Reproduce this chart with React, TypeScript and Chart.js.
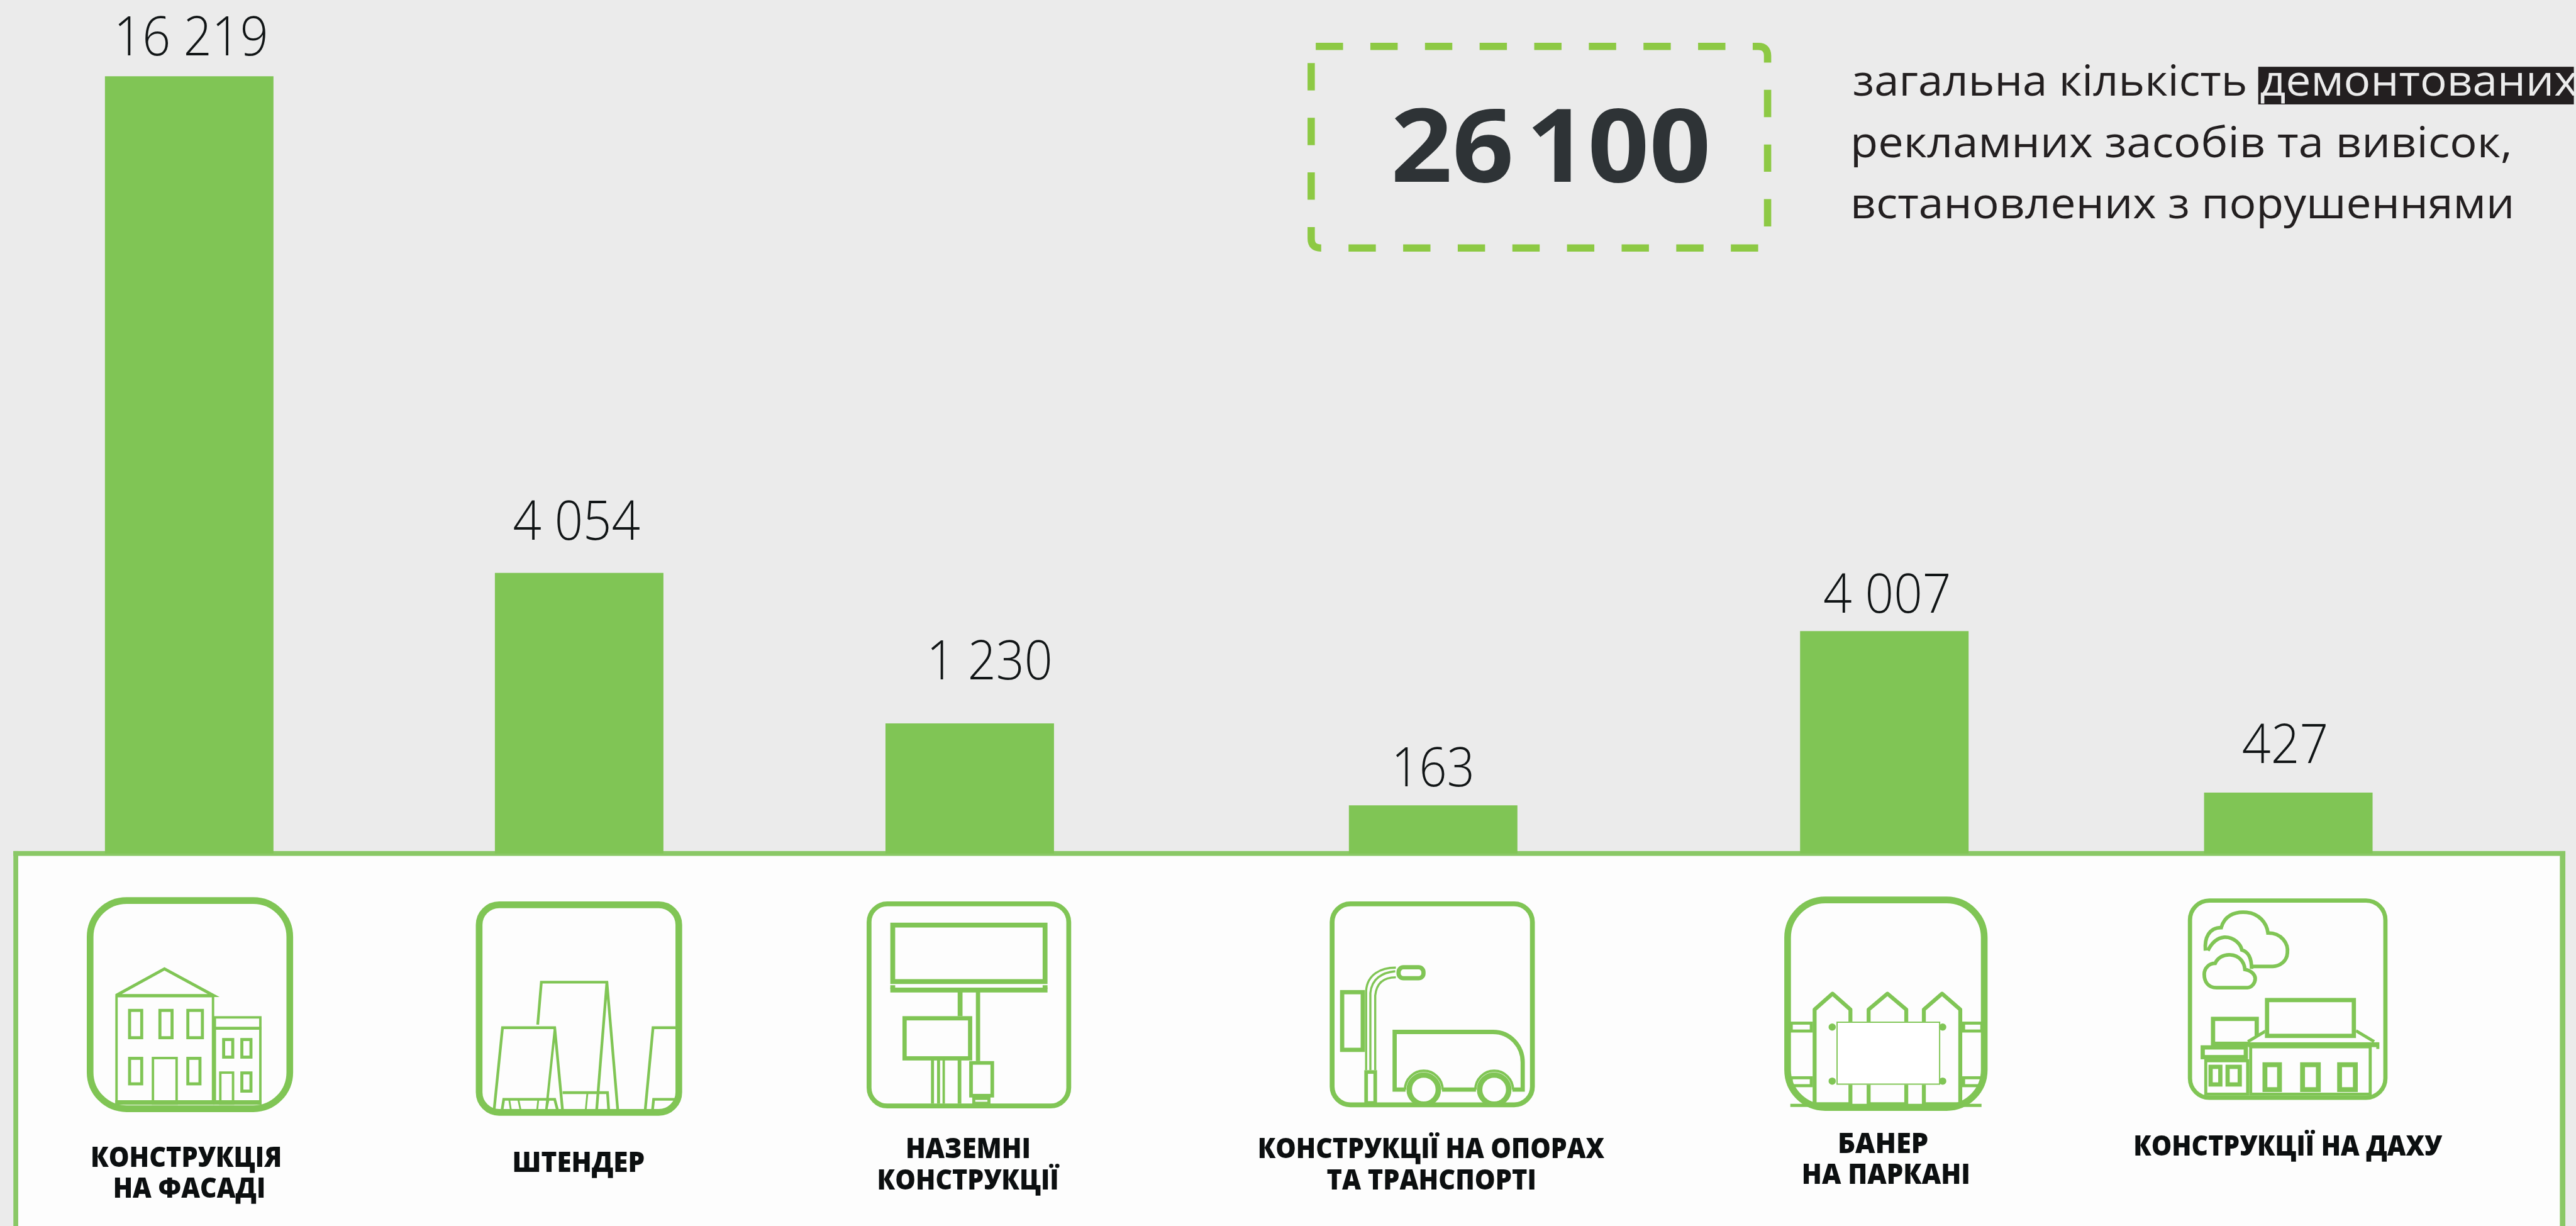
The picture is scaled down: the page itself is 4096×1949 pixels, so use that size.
import React, { useEffect, useRef } from "react";
import { Chart, registerables } from "chart.js";

Chart.register(...registerables);

// ---------- data ----------
const categories = [
  "Конструкція на фасаді",
  "Штендер",
  "Наземні конструкції",
  "Конструкції на опорах та транспорті",
  "Банер на паркані",
  "Конструкції на даху",
];
const categoryLines = [
  ["КОНСТРУКЦІЯ", "НА ФАСАДІ"],
  ["ШТЕНДЕР"],
  ["НАЗЕМНІ", "КОНСТРУКЦІЇ"],
  ["КОНСТРУКЦІЇ НА ОПОРАХ", "ТА ТРАНСПОРТІ"],
  ["БАНЕР", "НА ПАРКАНІ"],
  ["КОНСТРУКЦІЇ НА ДАХУ"],
];
// The printed numbers.
const valueLabels = ["16 219", "4 054", "1 230", "163", "4 007", "427"];
// The bars in the source are not drawn to the printed numbers, so their heights are
// read off the picture, in units where the tallest bar stands at its printed 16 219.
const barLevels = [16219, 5854, 2712, 1001, 4638, 1267];
// Bars are unevenly spaced; position along the axis, in units of the first gap.
const barSlots = [0, 1, 2.0016, 3.19, 4.347, 5.383];
const totalValue = "26 100";
const noteLine1 = "загальна кількість";
const noteHighlight = "демонтованих";
const noteLine2 = "рекламних засобів та вивісок,";
const noteLine3 = "встановлених з порушеннями";

// ---------- layout (reference pixels, everything drawn at 0.965) ----------
const S = 0.965;
const W = 4096;
const H = 1949;
const BASE = 1406;
const GREEN = "#80C555";
const BORDER = "#8AC866";
const DASH = "#8DC944";
const valueBoxes = [
  [195, 438, 91], [847, 1054, 889], [1534, 1730, 1119], [2300, 2424.5, 1295], [3006, 3210.6, 1009], [3696, 3832, 1257],
];
const labelBoxes = [
  [[152, 462, 1922], [189, 435, 1972.6]],
  [[847, 1061, 1931]],
  [[1495, 1696, 1908], [1448, 1746, 1959.6]],
  [[2075, 2644, 1908], [2187, 2529, 1959.6]],
  [[3031, 3176, 1899], [2971.5, 3244, 1950.6]],
  [[3518, 4025, 1904]],
];

type C = CanvasRenderingContext2D;

function fitted(ctx: C, text: string, x0: number, x1: number, y: number) {
  ctx.save();
  ctx.textAlign = "left";
  ctx.textBaseline = "alphabetic";
  const m = ctx.measureText(text);
  const ink = m.actualBoundingBoxRight + m.actualBoundingBoxLeft;
  const k = (x1 - x0) / ink;
  ctx.translate(x0 + m.actualBoundingBoxLeft * k, y);
  ctx.scale(k, 1);
  ctx.fillText(text, 0, 0);
  ctx.restore();
}

// outer-edge box outline
function box(ctx: C, x0: number, y0: number, x1: number, y1: number, lw: number, fill?: string) {
  ctx.lineWidth = lw;
  if (fill) {
    ctx.fillStyle = fill;
    ctx.fillRect(x0, y0, x1 - x0, y1 - y0);
  }
  ctx.strokeRect(x0 + lw / 2, y0 + lw / 2, x1 - x0 - lw, y1 - y0 - lw);
}
function rbox(ctx: C, x0: number, y0: number, x1: number, y1: number, r: number, lw: number) {
  ctx.lineWidth = lw;
  ctx.beginPath();
  ctx.roundRect(x0 + lw / 2, y0 + lw / 2, x1 - x0 - lw, y1 - y0 - lw, r);
  ctx.stroke();
}
function ln(ctx: C, lw: number, ...p: number[]) {
  ctx.lineWidth = lw;
  ctx.beginPath();
  ctx.moveTo(p[0], p[1]);
  for (let i = 2; i < p.length; i += 2) ctx.lineTo(p[i], p[i + 1]);
  ctx.stroke();
}

function iconBuilding(c: C) {
  rbox(c, 143, 1478, 483, 1832, 60, 11);
  ln(c, 5, 191, 1640, 271, 1596, 352, 1640, 191, 1640);
  box(c, 190, 1639, 353, 1820, 4);
  ln(c, 5, 190, 1815, 431, 1815);
  [[211, 236], [261, 286], [307, 336]].forEach(([a, b]) => box(c, a, 1662, b, 1712, 5));
  box(c, 211, 1741, 236, 1788, 5);
  box(c, 250, 1741, 293, 1820, 4);
  box(c, 307, 1741, 332, 1788, 5);
  box(c, 352, 1674, 431, 1820, 4);
  ln(c, 5, 352, 1694, 431, 1694);
  box(c, 366, 1710, 386, 1744, 5);
  box(c, 396, 1710, 416, 1744, 5);
  box(c, 361, 1765, 386, 1820, 4);
  box(c, 396, 1765, 416, 1800, 5);
}

function iconStand(c: C) {
  rbox(c, 784, 1485, 1124, 1838, 33, 11);
  const b = 1830;
  ln(c, 4.5, 886, 1688, 892, 1618, 1000, 1618, 1018, b);
  ln(c, 4.5, 1000, 1618, 983, b);
  ln(c, 4.5, 814, b, 828, 1693, 914, 1693, 927, b);
  ln(c, 4, 914, 1698, 900, b);
  ln(c, 4.5, 1063, b, 1076, 1693, 1117, 1693);
  ln(c, 4.5, 827, b, 830, 1811, 914, 1811, 919, b);
  ln(c, 3, 839, 1811, 842, b);
  ln(c, 3, 854, 1811, 858, b);
  ln(c, 3, 887, 1811, 885, b);
  ln(c, 3, 904, 1811, 900, b);
  ln(c, 4.5, 927, 1800, 1001, 1800, 1003, b);
  ln(c, 3, 968, 1800, 965, b);
  ln(c, 4.5, 1075, b, 1077, 1811, 1117, 1811);
}

function iconBillboard(c: C) {
  rbox(c, 1428, 1485, 1765, 1826, 30, 8);
  box(c, 1467, 1520, 1726, 1621, 8);
  c.fillRect(1467, 1627, 259, 8);
  c.fillRect(1467, 1623, 8, 6);
  c.fillRect(1718, 1623, 8, 6);
  c.fillRect(1578, 1630, 8, 44);
  c.fillRect(1608, 1630, 7, 118);
  box(c, 1487, 1674, 1602, 1747, 7);
  c.fillRect(1534, 1746, 5, 72);
  c.fillRect(1544, 1746, 5, 72);
  c.fillRect(1553, 1746, 4, 72);
  c.fillRect(1578, 1746, 6, 72);
  box(c, 1597, 1748, 1638, 1808, 6);
  box(c, 1602, 1807, 1632, 1820, 5);
}

function iconBus(c: C) {
  rbox(c, 2191, 1485, 2529, 1824, 30, 8);
  box(c, 2208, 1631, 2249, 1733, 7);
  // pole with its arm
  c.lineWidth = 3.5;
  c.beginPath();
  c.moveTo(2251, 1763);
  c.lineTo(2251, 1632);
  c.bezierCurveTo(2253, 1605, 2275, 1594, 2300, 1594);
  c.stroke();
  c.beginPath();
  c.moveTo(2266, 1763);
  c.lineTo(2266, 1640);
  c.bezierCurveTo(2268, 1620, 2280, 1610, 2300, 1610);
  c.stroke();
  c.beginPath();
  c.moveTo(2258, 1763);
  c.lineTo(2258, 1636);
  c.bezierCurveTo(2260, 1612, 2278, 1602, 2299, 1600);
  c.stroke();
  rbox(c, 2301, 1590, 2349, 1615, 8, 7);
  box(c, 2248, 1763, 2269, 1820, 6);
  // bus body
  c.lineWidth = 7;
  c.beginPath();
  c.moveTo(2316, 1795);
  c.lineTo(2298, 1795);
  c.lineTo(2298, 1700);
  c.lineTo(2460, 1700);
  c.bezierCurveTo(2490, 1700, 2509, 1725, 2509, 1750);
  c.lineTo(2509, 1795);
  c.lineTo(2492, 1795);
  c.moveTo(2376, 1795);
  c.lineTo(2432, 1795);
  c.stroke();
  [2346, 2462].forEach((x) => {
    c.lineWidth = 9;
    c.beginPath();
    c.arc(x, 1795, 24, 0, Math.PI * 2);
    c.stroke();
    c.lineWidth = 4;
    c.beginPath();
    c.arc(x, 1795, 31, Math.PI, Math.PI * 2);
    c.stroke();
  });
}

function iconFence(c: C) {
  rbox(c, 2940, 1477, 3275, 1830, 62, 11);
  // rails
  [[2949, 2987], [3233, 3268]].forEach(([a, b]) => {
    box(c, a, 1683, b, 1701, 5);
    box(c, a, 1773, b, 1791, 5);
  });
  // pickets
  [[2987, 3052], [3076, 3144], [3167, 3233]].forEach(([a, b]) => {
    c.lineWidth = 6.5;
    c.lineJoin = "round";
    c.beginPath();
    c.moveTo(a + 3, 1819);
    c.lineTo(a + 3, 1663);
    c.lineTo((a + b) / 2, 1637);
    c.lineTo(b - 3, 1663);
    c.lineTo(b - 3, 1819);
    c.closePath();
    c.stroke();
    c.lineJoin = "miter";
  });
  ln(c, 5, 2950, 1821, 3265, 1821);
  // banner
  c.fillStyle = "#FFFFFF";
  c.fillRect(3026, 1683, 171, 104);
  c.lineWidth = 2;
  c.strokeRect(3027, 1684, 169, 102);
  c.fillStyle = GREEN;
  [[3019, 1692], [3201, 1692], [3019, 1781], [3201, 1781]].forEach(([x, y]) => {
    c.beginPath();
    c.arc(x, y, 6, 0, Math.PI * 2);
    c.fill();
  });
}

function iconRoof(c: C) {
  rbox(c, 3605, 1480, 3934, 1812, 32, 7);
  // clouds
  c.lineWidth = 6;
  c.beginPath();
  c.moveTo(3634, 1566);
  c.bezierCurveTo(3632, 1545, 3640, 1528, 3660, 1528);
  c.bezierCurveTo(3665, 1510, 3680, 1501, 3702, 1503);
  c.bezierCurveTo(3722, 1505, 3735, 1520, 3737, 1537);
  c.bezierCurveTo(3760, 1537, 3771, 1555, 3769, 1570);
  c.bezierCurveTo(3768, 1585, 3755, 1592, 3745, 1592);
  c.lineTo(3708, 1592);
  c.stroke();
  c.beginPath();
  c.moveTo(3638, 1566);
  c.bezierCurveTo(3645, 1552, 3655, 1545, 3665, 1544);
  c.bezierCurveTo(3680, 1543, 3692, 1555, 3694, 1565);
  c.bezierCurveTo(3705, 1568, 3710, 1580, 3710, 1596);
  c.stroke();
  c.beginPath();
  c.moveTo(3652, 1627);
  c.bezierCurveTo(3638, 1627, 3632, 1617, 3632, 1605);
  c.bezierCurveTo(3632, 1595, 3640, 1587, 3650, 1587);
  c.bezierCurveTo(3654, 1578, 3664, 1572, 3675, 1573);
  c.bezierCurveTo(3690, 1574, 3698, 1585, 3699, 1597);
  c.bezierCurveTo(3710, 1599, 3716, 1606, 3716, 1612);
  c.bezierCurveTo(3716, 1620, 3710, 1627, 3703, 1627);
  c.closePath();
  c.stroke();
  // roof signs
  box(c, 3643, 1675, 3722, 1723, 7);
  c.fillStyle = "#FDFDFD";
  c.beginPath();
  c.moveTo(3704, 1718);
  c.lineTo(3732, 1697);
  c.lineTo(3882, 1697);
  c.lineTo(3914, 1718);
  c.closePath();
  c.fill();
  c.fillStyle = GREEN;
  ln(c, 5, 3704, 1716, 3734, 1698);
  ln(c, 5, 3912, 1716, 3882, 1698);
  c.fillStyle = "#FDFDFD";
  c.fillRect(3732, 1644, 150, 65);
  c.fillStyle = GREEN;
  box(c, 3732, 1644, 3882, 1710, 7);
  // buildings
  c.fillRect(3704, 1717, 214, 8);
  ln(c, 5, 3918, 1717, 3918, 1728);
  box(c, 3706, 1722, 3908, 1805, 5);
  box(c, 3626, 1722, 3704, 1745, 7);
  box(c, 3632, 1745, 3706, 1805, 5);
  [[3728, 3760], [3790, 3824], [3851, 3885]].forEach(([a, b]) => box(c, a, 1750, b, 1799, 8));
  [[3639, 3662], [3667, 3694]].forEach(([a, b]) => box(c, a, 1754, b, 1790, 7));
}

const decorBehind = {
  id: "decorBehind",
  beforeDatasetsDraw(chart: any) {
    const ctx: C = chart.ctx;
    ctx.save();
    ctx.fillStyle = "#EBEBEB";
    ctx.fillRect(0, 0, W, H);
    ctx.scale(S, S);
    // lower panel, open at the bottom
    ctx.fillStyle = "#FDFDFD";
    ctx.fillRect(22, 1402, 4205, 700);
    ctx.fillStyle = BORDER;
    ctx.fillRect(22, 1402, 4205, 8);
    ctx.fillRect(22, 1402, 8, 700);
    ctx.fillRect(4218, 1402, 9, 700);
    ctx.restore();
  },
};

const decorFront = {
  id: "decorFront",
  afterDatasetsDraw(chart: any) {
    const ctx: C = chart.ctx;
    const yScale = chart.scales.y;
    ctx.save();
    ctx.scale(S, S);

    // value labels: baseline tied to the top of each bar
    ctx.fillStyle = "#111516";
    ctx.font = '300 89px "Open Sans"';
    valueLabels.forEach((t, i) => {
      const top = yScale.getPixelForValue(barLevels[i]) / S;
      const gap = [35, 55, 73, 32, 31, 49][i];
      fitted(ctx, t, valueBoxes[i][0], valueBoxes[i][1], top - gap);
    });

    // category labels
    ctx.fillStyle = "#0C0F10";
    ctx.font = '800 45px "Open Sans"';
    categoryLines.forEach((lines, i) =>
      lines.forEach((t, j) => {
        const [a, b, y] = labelBoxes[i][j];
        fitted(ctx, t, a, b, y);
      })
    );

    // icons
    ctx.strokeStyle = GREEN;
    ctx.fillStyle = GREEN;
    [iconBuilding, iconStand, iconBillboard, iconBus, iconFence, iconRoof].forEach((fn) => {
      ctx.save();
      ctx.fillStyle = GREEN;
      fn(ctx);
      ctx.restore();
    });

    // dashed total box
    ctx.save();
    ctx.strokeStyle = DASH;
    ctx.lineWidth = 12;
    ctx.setLineDash([45, 45]);
    ctx.beginPath();
    ctx.moveTo(2168, 76.5);
    ctx.lineTo(2897, 76.5);
    ctx.quadraticCurveTo(2912.5, 76.5, 2912.5, 92);
    ctx.lineTo(2912.5, 393);
    ctx.quadraticCurveTo(2912.5, 408.5, 2897, 408.5);
    ctx.lineTo(2176, 408.5);
    ctx.quadraticCurveTo(2160.5, 408.5, 2160.5, 393);
    ctx.lineTo(2160.5, 92);
    ctx.stroke();
    ctx.restore();

    ctx.save();
    ctx.fillStyle = "#2E3336";
    ctx.font = '700 167px "Open Sans"';
    (ctx as any).wordSpacing = "-24px";
    fitted(ctx, totalValue, 2298, 2813, 299);
    ctx.restore();

    // note text
    ctx.fillStyle = "#231F20";
    ctx.fillRect(3721, 110, 520, 62);
    ctx.font = '400 71px "Open Sans"';
    fitted(ctx, noteLine1, 3055, 3700, 158);
    fitted(ctx, noteLine2, 3055, 4135, 259);
    fitted(ctx, noteLine3, 3055, 4137, 360);
    ctx.fillStyle = "#EBEBEB";
    fitted(ctx, noteHighlight, 3725, 4246, 158);

    ctx.restore();
  },
};

export default function App() {
  const ref = useRef<HTMLCanvasElement>(null);
  useEffect(() => {
    document.body.style.margin = "0";
    document.body.style.background = "#EBEBEB";
    const chart = new Chart(ref.current as HTMLCanvasElement, {
      type: "bar",
      data: {
        labels: categories,
        datasets: [
          {
            label: "Демонтовані рекламні засоби",
            data: barSlots.map((x, i) => ({ x, y: barLevels[i] })),
            backgroundColor: GREEN,
            borderWidth: 0,
            barThickness: 277 * S,
          },
        ],
      },
      options: {
        animation: false,
        responsive: false,
        devicePixelRatio: 1,
        layout: { padding: { left: 0, right: 0, top: 0, bottom: H - BASE * S } },
        plugins: { legend: { display: false }, tooltip: { enabled: false } },
        scales: {
          x: { type: "linear", offset: false, display: false, min: -311.5 / 642, max: (4241 - 311.5) / 642, grid: { display: false } },
          y: { display: false, min: 0, max: (BASE / 1280) * 16219, grid: { display: false } },
        },
      },
      plugins: [decorBehind, decorFront],
    } as any);
    return () => chart.destroy();
  }, []);
  return (
    <div style={{ position: "fixed", left: 0, top: 0, width: W, height: H, overflow: "hidden" }}>
      <canvas ref={ref} width={W} height={H} style={{ display: "block", width: W, height: H }} />
    </div>
  );
}
